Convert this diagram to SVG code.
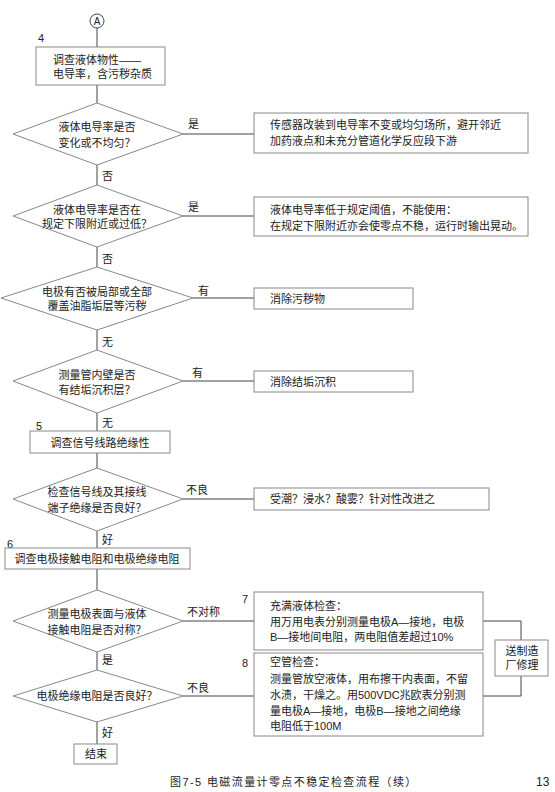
<svg xmlns="http://www.w3.org/2000/svg" width="555" height="792" viewBox="0 0 555 792">
<style>
text{font-family:"Liberation Sans","Noto Sans CJK SC",sans-serif;font-size:11px;fill:#222}
.m{text-anchor:middle}
.box{fill:#fff;stroke:#888;stroke-width:1}
.c{fill:none;stroke:#444;stroke-width:1}
</style>
<rect width="555" height="792" fill="#fff"/>
<g id="connectors">
<line class="c" x1="97" y1="28" x2="97" y2="47"/>
<line class="c" x1="97" y1="85" x2="97" y2="103"/>
<line class="c" x1="97" y1="165" x2="97" y2="185"/>
<line class="c" x1="97" y1="247" x2="97" y2="267"/>
<line class="c" x1="97" y1="330" x2="97" y2="350"/>
<line class="c" x1="97" y1="413" x2="97" y2="431"/>
<line class="c" x1="97" y1="453" x2="97" y2="468"/>
<line class="c" x1="97" y1="531" x2="97" y2="548"/>
<line class="c" x1="97" y1="569" x2="97" y2="590"/>
<line class="c" x1="97" y1="652" x2="97" y2="670"/>
<line class="c" x1="97" y1="722" x2="97" y2="744"/>
<line class="c" x1="183" y1="134" x2="254" y2="134"/>
<line class="c" x1="183" y1="216" x2="254" y2="216"/>
<line class="c" x1="193" y1="298" x2="254" y2="298"/>
<line class="c" x1="183" y1="381" x2="254" y2="381"/>
<line class="c" x1="183" y1="499" x2="254" y2="499"/>
<line class="c" x1="183" y1="621" x2="254" y2="621"/>
<line class="c" x1="183" y1="696" x2="254" y2="696"/>
<polyline class="c" points="483,621 521,621 521,640"/>
<polyline class="c" points="483,696 521,696 521,676"/>
<text x="188" y="128">是</text>
<text x="102" y="180">否</text>
<text x="188" y="211">是</text>
<text x="102" y="263">否</text>
<text x="198" y="295">有</text>
<text x="102" y="346">无</text>
<text x="192" y="377">有</text>
<text x="102" y="427">无</text>
<text x="186" y="494">不良</text>
<text x="102" y="544">好</text>
<text x="187" y="616">不对称</text>
<text x="102" y="664">是</text>
<text x="187" y="692">不良</text>
<text x="102" y="737">好</text>
</g>
<g id="start">
<circle cx="97" cy="21" r="7" fill="#fff" stroke="#444"/>
<text class="m" x="97" y="25" style="font-size:10px">A</text>
</g>
<g id="n4">
<text x="38" y="42">4</text>
<rect class="box" x="36" y="47" width="129" height="38"/>
<text x="53" y="64">调查液体物性——</text>
<text x="53" y="78">电导率，含污秽杂质</text>
</g>
<g id="d1">
<polygon class="box" points="97,103 183,134 97,165 13,134"/>
<text class="m" x="97" y="131">液体电导率是否</text>
<text class="m" x="97" y="147">变化或不均匀？</text>
</g>
<g id="r1">
<rect class="box" x="254" y="113" width="274" height="40"/>
<text x="270" y="129">传感器改装到电导率不变或均匀场所，避开邻近</text>
<text x="270" y="145">加药液点和未充分管道化学反应段下游</text>
</g>
<g id="d2">
<polygon class="box" points="97,185 183,216 97,247 13,216"/>
<text class="m" x="97" y="214">液体电导率是否在</text>
<text class="m" x="97" y="228">规定下限附近或过低？</text>
</g>
<g id="r2">
<rect class="box" x="254" y="197" width="274" height="39"/>
<text x="270" y="214">液体电导率低于规定阈值，不能使用：</text>
<text x="270" y="230">在规定下限附近亦会使零点不稳，运行时输出晃动。</text>
</g>
<g id="d3">
<polygon class="box" points="97,267 193,298 97,330 1,298"/>
<text class="m" x="97" y="296">电极有否被局部或全部</text>
<text class="m" x="97" y="310">覆盖油脂垢层等污秽</text>
</g>
<g id="r3">
<rect class="box" x="254" y="288" width="159" height="21"/>
<text x="270" y="303">消除污秽物</text>
</g>
<g id="d4">
<polygon class="box" points="97,350 183,381 97,413 13,381"/>
<text class="m" x="97" y="379">测量管内壁是否</text>
<text class="m" x="97" y="394">有结垢沉积层？</text>
</g>
<g id="r4">
<rect class="box" x="254" y="371" width="159" height="21"/>
<text x="270" y="386">消除结垢沉积</text>
</g>
<g id="n5">
<text x="36" y="430">5</text>
<rect class="box" x="30" y="431" width="140" height="22"/>
<text class="m" x="100" y="447">调查信号线路绝缘性</text>
</g>
<g id="d5">
<polygon class="box" points="97,468 183,499 97,531 13,499"/>
<text class="m" x="97" y="496">检查信号线及其接线</text>
<text class="m" x="97" y="512">端子绝缘是否良好？</text>
</g>
<g id="r5">
<rect class="box" x="254" y="488" width="235" height="22"/>
<text x="270" y="503">受潮？浸水？酸雾？针对性改进之</text>
</g>
<g id="n6">
<text x="7" y="548">6</text>
<rect class="box" x="5" y="548" width="185" height="21"/>
<text class="m" x="97" y="563">调查电极接触电阻和电极绝缘电阻</text>
</g>
<g id="d6">
<polygon class="box" points="97,590 183,621 97,652 13,621"/>
<text class="m" x="97" y="618">测量电极表面与液体</text>
<text class="m" x="97" y="634">接触电阻是否对称？</text>
</g>
<g id="n7">
<text x="242" y="603">7</text>
<rect class="box" x="254" y="592" width="229" height="58"/>
<text x="270" y="610">充满液体检查：</text>
<text x="270" y="626">用万用电表分别测量电极A—接地，电极</text>
<text x="270" y="641">B—接地间电阻，两电阻值差超过10%</text>
</g>
<g id="d7">
<polygon class="box" points="97,670 183,696 97,722 13,696"/>
<text class="m" x="97" y="700">电极绝缘电阻是否良好？</text>
</g>
<g id="n8">
<text x="242" y="667">8</text>
<rect class="box" x="254" y="653" width="229" height="83"/>
<text x="270" y="666">空管检查：</text>
<text x="270" y="683">测量管放空液体，用布擦干内表面，不留</text>
<text x="270" y="699">水渍，干燥之。用500VDC兆欧表分别测</text>
<text x="270" y="715">量电极A—接地，电极B—接地之间绝缘</text>
<text x="270" y="730">电阻低于100M</text>
</g>
<g id="repair">
<rect class="box" x="495" y="640" width="53" height="36"/>
<text class="m" x="522" y="655">送制造</text>
<text class="m" x="522" y="669">厂修理</text>
</g>
<g id="end">
<rect class="box" x="74" y="744" width="43" height="20"/>
<text class="m" x="96" y="758">结束</text>
</g>
<g id="caption">
<text x="170" y="786" style="letter-spacing:1.4px">图7-5  电磁流量计零点不稳定检查流程（续）</text>
<text x="536" y="786" style="font-size:12px">13</text>
</g>
</svg>
